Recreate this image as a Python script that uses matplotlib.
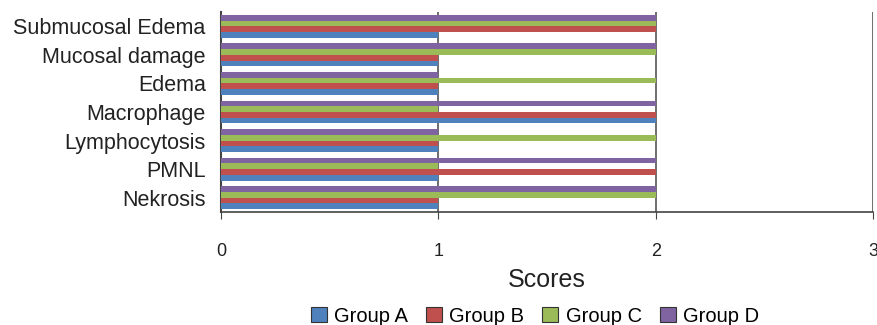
import numpy as np
import matplotlib.pyplot as plt
from matplotlib.patches import Patch

plt.rcParams['font.family'] = ['Liberation Sans', 'DejaVu Sans']

categories = ['Nekrosis', 'PMNL', 'Lymphocytosis', 'Macrophage', 'Edema',
              'Mucosal damage', 'Submucosal Edema']
groups = ['Group A', 'Group B', 'Group C', 'Group D']
group_a = [1, 1, 1, 2, 1, 1, 1]
group_b = [1, 2, 1, 2, 1, 1, 2]
group_c = [2, 1, 2, 1, 2, 2, 2]
group_d = [2, 2, 1, 2, 1, 2, 2]
colors = ['#4f81bd', '#c0504d', '#9bbb59', '#8064a2']

fig = plt.figure(figsize=(8.77, 3.25), dpi=100)
ax = fig.add_axes([221 / 877, 1 - 212 / 325, (873 - 221) / 877, (212 - 12) / 325])

y = np.arange(len(categories))
h = 0.2
for i, (vals, c) in enumerate(zip([group_a, group_b, group_c, group_d], colors)):
    ax.barh(y + (i - 1.5) * h, vals, height=h, color=c, zorder=3)

ax.set_xlim(0, 3)
ax.set_ylim(-0.5, len(categories) - 0.5)
ax.set_xticks([0, 1, 2, 3])
ax.set_yticks(y)
ax.set_yticklabels(categories, fontsize=15.5, color='#222222')
ax.tick_params(axis='y', length=0, pad=11)
ax.tick_params(axis='x', direction='out', length=5, pad=17, labelsize=13,
               color='#444444', labelcolor='#222222')
ax.grid(axis='x', color='#555555', linewidth=1.2, zorder=1)
for s in ['top', 'right']:
    ax.spines[s].set_visible(False)
ax.spines['left'].set_color('#444444')
ax.spines['left'].set_linewidth(1.5)
ax.spines['bottom'].set_color('#444444')
ax.spines['bottom'].set_linewidth(1.2)
ax.set_xlabel('Scores', fontsize=18, color='#222222', labelpad=6)

handles = [Patch(facecolor=c, edgecolor='#333333', linewidth=0.8) for c in colors]
fig.legend(handles, groups, loc='center', bbox_to_anchor=(535 / 877, 1 - 316 / 325),
           ncol=4, frameon=False, fontsize=14.5, handlelength=0.8, handleheight=0.8,
           handletextpad=0.35, columnspacing=0.9, borderpad=0)

fig.savefig('out.png', dpi=100)
